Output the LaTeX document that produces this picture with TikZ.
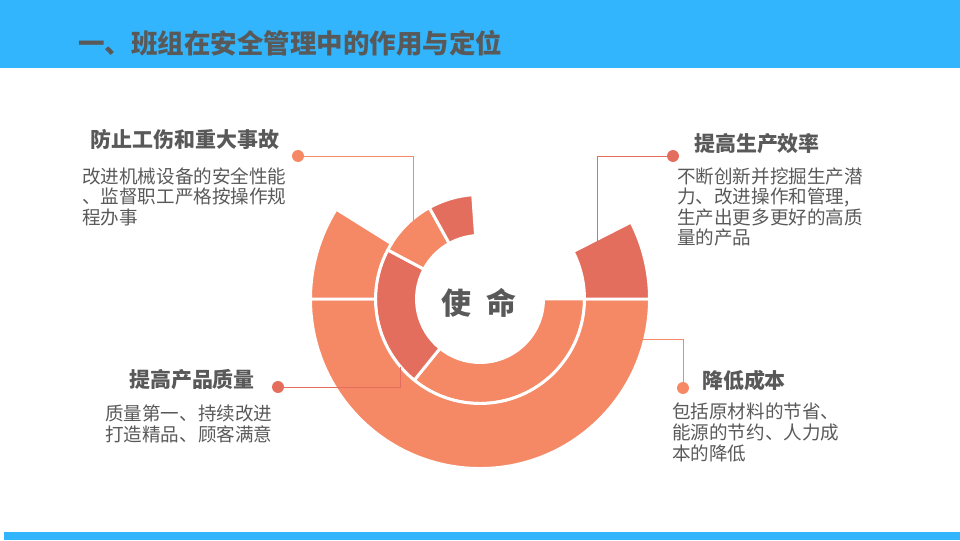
\documentclass[tikz,border=0pt]{standalone}
\usepackage{fontspec}
\setmainfont{Noto Sans CJK SC}
\definecolor{bandblue}{RGB}{50,181,252}
\definecolor{seglight}{RGB}{245,136,101}
\definecolor{segdark}{RGB}{228,110,93}
\definecolor{txtgray}{RGB}{89,89,89}

% one piece of a ring: colour, inner radius, outer radius, from angle, to angle
\newcommand{\ringpiece}[5]{%
  \fill[#1, draw=white, line width=2.1pt] (#4:#2) -- (#4:#3)
    arc[start angle=#4, end angle=#5, radius=#3] -- (#5:#2)
    arc[start angle=#5, end angle=#4, radius=#2] -- cycle;}

\tikzset{
  headtxt/.style={font=\fontsize{14.9pt}{16pt}\selectfont\bfseries, text=txtgray},
  bodytxt/.style={font=\fontsize{13.2pt}{14.6pt}\selectfont, text=txtgray,
    align=left, anchor=north west, inner sep=0pt},
  dotmark/.style={circle, fill=#1, inner sep=0pt, minimum size=8.5pt},
  linkline/.style={draw=#1, line width=0.7pt}
}

\begin{document}
\begin{tikzpicture}[x=0.025cm, y=0.025cm]
  \useasboundingbox (0,0) rectangle (960,540);
  % bands top and bottom
  \fill[bandblue] (0,472) rectangle (960,540);
  \fill[bandblue] (4,0) rectangle (960,8);
  \node[anchor=west, inner sep=0pt, text=txtgray,
    font=\fontsize{18.85pt}{20pt}\selectfont\bfseries] (title) at (78,497)
    {一、班组在安全管理中的作用与定位};

  % the two rings
  \begin{scope}[shift={(480,241)}]
    % inner ring
    \ringpiece{seglight}{63.5}{104.5}{231}{360}
    \ringpiece{segdark}{63.5}{104.5}{152}{231}
    \ringpiece{seglight}{63.5}{104.5}{119}{152}
    \ringpiece{segdark}{63.5}{104.5}{94}{119}
    % outer ring
    \ringpiece{seglight}{104.5}{169.5}{180}{360}
    \ringpiece{seglight}{104.5}{169.5}{148}{180}
    \ringpiece{segdark}{104.5}{169.5}{0}{27}
  \end{scope}
  \node[text=txtgray, font=\fontsize{21.3pt}{22pt}\selectfont\bfseries] (core)
    at (479,237) {使\hspace{0.5em}命};

  % top left
  \node[headtxt] (safeHead) at (185,400) {防止工伤和重大事故};
  \node[bodytxt] (safeBody) at (82,373)
    {改进机械设备的安全性能\\、监督职工严格按操作规\\程办事};
  \node[dotmark=seglight] (dotSafe) at (298,384) {};
  \coordinate (endSafe) at (413,318);
  \draw[linkline=seglight] (dotSafe) -| (endSafe);

  % top right
  \node[headtxt] (effHead) at (757,396) {提高生产效率};
  \node[bodytxt] (effBody) at (677,373)
    {不断创新并挖掘生产潜\\力、改进操作和管理,\\生产出更多更好的高质\\量的产品};
  \node[dotmark=segdark] (dotEff) at (673,384) {};
  \coordinate (endEff) at (597,298);
  \draw[linkline=segdark] (dotEff) -| (endEff);

  % bottom left
  \node[headtxt] (qualHead) at (192,160) {提高产品质量};
  \node[bodytxt] (qualBody) at (105,135)
    {质量第一、持续改进\\打造精品、顾客满意};
  \node[dotmark=segdark] (dotQual) at (278,153) {};
  \coordinate (endQual) at (400,173);
  \draw[linkline=segdark] (dotQual) -| (endQual);

  % bottom right
  \node[headtxt] (costHead) at (744,159) {降低成本};
  \node[bodytxt] (costBody) at (672,137)
    {包括原材料的节省、\\能源的节约、人力成\\本的降低};
  \node[dotmark=seglight] (dotCost) at (683,152) {};
  \coordinate (endCost) at (643,201);
  \draw[linkline=seglight] (dotCost) |- (endCost);
\end{tikzpicture}
\end{document}
